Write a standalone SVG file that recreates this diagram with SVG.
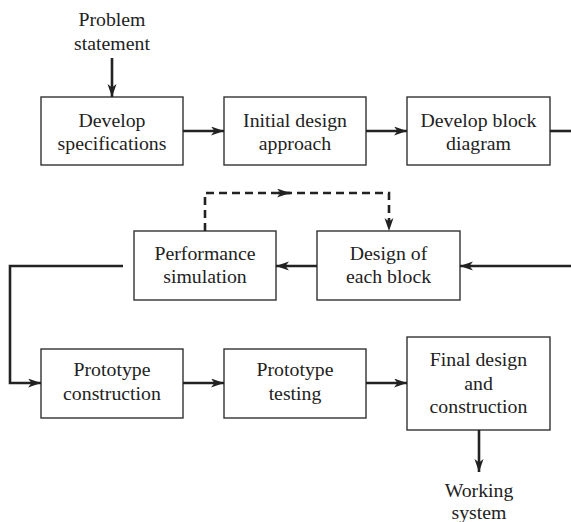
<svg xmlns="http://www.w3.org/2000/svg" width="571" height="522" viewBox="0 0 571 522">
<style>
.box{fill:#fff;stroke:#333;stroke-width:1.4}
.t{font-family:"Liberation Serif","Times New Roman",serif;font-size:19.8px;fill:#222;text-anchor:middle}
.c{fill:none;stroke:#222;stroke-width:2.6}
.d{fill:none;stroke:#222;stroke-width:2.6;stroke-dasharray:8 5}
</style>
<defs>
<marker id="ah" markerUnits="userSpaceOnUse" markerWidth="14" markerHeight="10" refX="13" refY="4.5" orient="auto">
<path d="M0,0 L13,4.5 L0,9 L3.5,4.5 z" fill="#222"/>
</marker>
</defs>
<rect width="571" height="522" fill="#fff"/>
<g id="problem"><text class="t" x="112" y="26">Problem</text><text class="t" x="112" y="50">statement</text></g>
<g id="spec"><rect class="box" x="41" y="97" width="142" height="68"/><text class="t" x="112" y="127">Develop</text><text class="t" x="112" y="150">specifications</text></g>
<g id="initial"><rect class="box" x="224" y="97" width="142" height="68"/><text class="t" x="295" y="127">Initial design</text><text class="t" x="295" y="150">approach</text></g>
<g id="blockdiag"><rect class="box" x="407" y="97" width="143" height="68"/><text class="t" x="478.5" y="127">Develop block</text><text class="t" x="478.5" y="150">diagram</text></g>
<g id="perf"><rect class="box" x="134" y="231" width="142" height="69"/><text class="t" x="205" y="260">Performance</text><text class="t" x="205" y="283">simulation</text></g>
<g id="design"><rect class="box" x="317" y="231" width="143" height="69"/><text class="t" x="388.5" y="260">Design of</text><text class="t" x="388.5" y="283">each block</text></g>
<g id="protocon"><rect class="box" x="41" y="349" width="142" height="69"/><text class="t" x="112" y="376">Prototype</text><text class="t" x="112" y="400">construction</text></g>
<g id="prototest"><rect class="box" x="224" y="349" width="142" height="69"/><text class="t" x="295" y="376">Prototype</text><text class="t" x="295" y="400">testing</text></g>
<g id="final"><rect class="box" x="407" y="337" width="143" height="93"/><text class="t" x="478.5" y="366">Final design</text><text class="t" x="478.5" y="390">and</text><text class="t" x="478.5" y="413">construction</text></g>
<g id="working"><text class="t" x="479" y="497">Working</text><text class="t" x="479" y="519">system</text></g>
<g id="connectors">
<path class="c" d="M112,58 V97" marker-end="url(#ah)"/>
<path class="c" d="M183,131 H224" marker-end="url(#ah)"/>
<path class="c" d="M366,131 H407" marker-end="url(#ah)"/>
<path class="c" d="M550,131 H571"/>
<path class="c" d="M571,266 H460" marker-end="url(#ah)"/>
<path class="c" d="M317,266 H276" marker-end="url(#ah)"/>
<path class="c" d="M123,266 H10 V383 H41" marker-end="url(#ah)"/>
<path class="d" d="M205,231 V193 H389 V231" marker-end="url(#ah)"/>
<path class="c" d="M278,193 H290" marker-end="url(#ah)"/>
<path class="c" d="M183,383 H224" marker-end="url(#ah)"/>
<path class="c" d="M366,383 H407" marker-end="url(#ah)"/>
<path class="c" d="M479,430 V472" marker-end="url(#ah)"/>
</g>
</svg>
